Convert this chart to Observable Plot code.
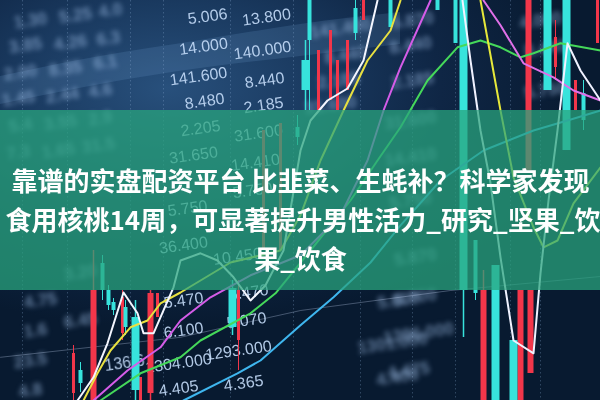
<!DOCTYPE html>
<html><head><meta charset="utf-8">
<script src="https://cdn.jsdelivr.net/npm/d3@7"></script>
<script src="https://cdn.jsdelivr.net/npm/@observablehq/plot@0.6"></script>
<style>
html,body{margin:0;padding:0;background:#0a1a30;}
#chart{width:600px;height:400px;overflow:hidden;}
</style>
</head><body><div id="chart"></div>
<script>
// ---- line series (x = period, y = price index) ----
const whiteAX = [7.7,9.3,10.7,12.3,13.7,14.3,15.3,17.3,18,20,21.7,23.3,25,26.5,28.3,30,31,32.7,34.7,36.3,37.7];
const whiteAY = [0,5.8,14.3,27,21.8,16.8,16.8,28.3,35,36.8,35,30.8,25,28.8,37.5,62.5,70,75,78,85,100];
const whiteBX = [46.2,47,48,49,50,51.3,53.3,54,54.8,55.7,56.7,58,60];
const whiteBY = [100,85,67.5,54.3,35.8,15,11.8,31.8,50,67.5,89.3,82.5,75];
const yellowAX = [8.3,9.7,11,13,14.7,16,18,23,28,30,32,34.3,36.7,39,40];
const yellowAY = [0,6.8,12.5,18.3,20,24.3,27,34.5,37.5,46.3,60,72.5,85,92.5,100];
const yellowBX = [48,49,50,51.3,53.3,54.3,55.7,57.3,60];
const yellowBY = [100,86.3,72.5,55.8,43.3,38.3,40,49.3,58.3];
const magentaAX = [9.3,12.7,16,18,21,25,30,34,36.7,38.3,40,43];
const magentaAY = [0,7.5,13.3,20,25.8,31.3,36.3,46.3,60,72.5,83.3,100];
const magentaBX = [48.3,50,52.3,55.3,57.3,60];
const magentaBY = [100,93.8,84.3,80.8,77.5,75];
const greenX = [10,14,18,20,25,27.5,31,35,37.7,40,42.7,45.7,48,50,52,53.3,56,60];
const greenY = [0,6.8,10.8,15,21.8,26.8,37.5,50,60,68.3,80,88.3,90,88.3,85.8,86.8,89.3,87.5];
const blueX = [18.3,23.7,26,30,33.3,37,40,44,48.3,53.3,56.7,60];
const blueY = [0,6.8,10,18.8,25.8,34.5,43.8,55,62.5,67.5,70,72.5];
const faintX = [0,18,30,45,60];
const faintY = [10.8,15.8,22.5,27.5,31];

// ---- candles: x, low, high, open, close ----
const upWideX = [13.5,23.2,46.3,49.5,51.3,54.7,56.6,30.5];
const upWideLow = [0,16.25,15.75,0,0,77.5,62.5,72.5];
const upWideHigh = [25,30,100,33.75,15,100,100,90];
const upWideOpen = [2.5,18.25,27.5,0,0,77.5,62.5,77.5];
const upWideClose = [20.75,28,100,33.75,15,100,100,85];

const upThinX = [10.2,10.8,11.3,12.5,8.0,29.7,30.9,35.5,39.0,45.5,47.5,58.3,43.7];
const upThinLow = [25,22.5,21.25,16.25,2,63.75,72.5,90,93.25,89.25,25,67.5,97.5];
const upThinHigh = [36.25,28.75,25.5,25,9.5,71.25,100,100,100,100,40,80,100];
const upThinOpen = [27.5,23.75,22.5,18.25,4.25,65.75,90,91.75,93.25,89.25,26.75,70,97.5];
const upThinClose = [34.25,27.5,24.5,23.25,7.5,68.25,100,98,100,100,40,76.75,100];

const downWideX = [9.3,15.0,52.8,48.3,52.0,53.0];
const downWideLow = [0,0,57.5,0,0,6.75];
const downWideHigh = [37.5,27.5,100,32.5,27.5,27.5];
const downWideOpen = [27.5,26.75,100,27.5,27.5,27.5];
const downWideClose = [0,1.75,57.5,0,0,6.75];

const downThinX = [7.3,12.2,15.7,14.0,23.8,28.0,26.3,31.8,33.0,33.7,34.7,36.3,55.5,57.5,59.7];
const downThinLow = [0,15,20.75,0,7.5,37.5,37.5,72.5,75,72.5,77.5,95,80,72.5,89.25];
const downThinHigh = [13.75,27.5,26.75,5.75,30,69.25,67.5,87.5,92.5,85,90,100,95,80,100];
const downThinOpen = [11.75,25.75,26.75,5.75,27.5,69.25,67.5,87.5,92.5,85,90,100,90.75,80,100];
const downThinClose = [1.75,16.75,20.75,0,15,37.5,37.5,72.5,75,72.5,77.5,95,83.25,72.5,89.25];

// ---- grid ----
const gridX = [2.2,6.7,13,16.3,23,29.3,36,41.2,45.5,51,54];

// ---- on-screen quote numbers ----
const quoteText = ["5.006","13.800","14.000","140.000","141.600","8.440","8.480","2.185","2.205","31.600","31.650","14.410","5.750","5.750","10.450","36.400","5.470","6.100","1304.000","4.405","5.470","5.070","1293.000","4.365","136.6"];
const quoteX = [20.7,26.6,20.3,26.2,19.8,26.4,20.4,26.3,20.0,25.8,19.3,25.5,25.2,18.7,23.7,18.3,18.3,18.3,17.8,17.8,24.8,24.6,23.8,24.3,12.4];
const quoteY = [96,95.8,88.5,87.5,81,80,74.8,73.8,68,66.8,61.3,59.5,52.5,48,36,38.8,25,17.5,9.3,3,27,20,12.5,4.3,9.3];

const blurText = ["141.400","8.440","2.185","31.600","5.870","8.440","2.185","31.600","14.410","5.750","5.600","1301.000","4.400","5.870","5.700","1296.000","4.475","4.000","8.440","5.750",
  "1.30","5.25","4.0","3.85","4.26","6.3","2.00","8.35","6.1","1.45","2.44","4.6","5.4","3.55","2.9","7.3","1.65","31.5","4.75","1.6","23.5","4.8","3.20","6.45"];
const blurX = [34,34.5,33.8,33,41.2,41,41.2,41,41,41,39.8,39.2,39.7,41.5,41.5,41.8,40.8,54,54.5,54.5,
  3,7.5,11,2.5,7,10.8,2,6.5,10.5,1.8,6.2,10,2,6,10,1.8,5.8,9.8,4,3.5,3,3,8,8];
const blurY = [93,86.3,80,73.8,95,88.8,80,70,60.8,50,25,14.3,5.8,35.8,25.8,16.8,7.5,95,88,77.5,
  95,96.3,97.5,88.8,89.5,90.5,82,83,84.5,75.5,76.3,77.5,68.8,69.5,70.5,62,62.5,63.8,25,17.5,10,2.5,32,20];

// ---- light strip & overlay band ----
const stripX = [0,10,20,30,40];
const stripTop = [81,86,90,94,97];
const stripBottom = [74,79,83,86,89];
const bandX = [0,60];
const bandY = [27.5,72.5];

// ---- title ----
const titleCentered = ["靠谱的实盘配资平台 比韭菜、生蚝补？科学家发现","果_饮食"];
const titleCenteredX = [30,30];
const titleCenteredY = [54.5,35];
const titleLeft = ["食用核桃14周，可显著提升男性活力_研究_坚果_饮食"];
const titleLeftX = [0.5];
const titleLeftY = [44.8];

const pts = (xs, ys) => xs.map((x,i)=>({x, y: ys[i]}));
const candles = (xs, lo, hi, op, cl) => xs.map((x,i)=>({x, lo: lo[i], hi: hi[i], op: op[i], cl: cl[i]}));

const upW = candles(upWideX, upWideLow, upWideHigh, upWideOpen, upWideClose);
const upT = candles(upThinX, upThinLow, upThinHigh, upThinOpen, upThinClose);
const dnW = candles(downWideX, downWideLow, downWideHigh, downWideOpen, downWideClose);
const dnT = candles(downThinX, downThinLow, downThinHigh, downThinOpen, downThinClose);

const quotes = quoteText.map((t,i)=>({t, x: quoteX[i], y: quoteY[i]}));
const blurs = blurText.map((t,i)=>({t, x: blurX[i], y: blurY[i]}));
const strip = stripX.map((x,i)=>({x, y1: stripBottom[i], y2: stripTop[i]}));
const titlesC = titleCentered.map((t,i)=>({t, x: titleCenteredX[i], y: titleCenteredY[i]}));
const titlesL = titleLeft.map((t,i)=>({t, x: titleLeftX[i], y: titleLeftY[i]}));

const CYAN = "#37e3dc", RED = "#f2364a";
const lineStyle = {x:"x", y:"y", strokeWidth: 2, strokeLinejoin:"round"};
const titleStyle = {x:"x", y:"y", text:"t", fill:"white", fontSize: 26, fontWeight:"bold", fontFamily:"Noto Sans CJK SC, sans-serif"};

const chart = Plot.plot({
  width: 600, height: 400, margin: 0,
  x: {domain: [0,60], axis: null},
  y: {domain: [0,100], axis: null},
  style: {background: "radial-gradient(ellipse 70% 60% at 28% 22%, #28507c 0%, #1a3a60 35%, #0f2645 65%, #081a30 100%)", overflow: "hidden"},
  marks: [
    Plot.areaY(strip, {x:"x", y1:"y1", y2:"y2", fill:"#7fb0e0", fillOpacity: 0.16, curve:"natural"}),
    Plot.ruleX(gridX, {stroke:"#8fb0d8", strokeOpacity: 0.3, strokeDasharray: "1.5,2.5"}),
    Plot.text(blurs, {x:"x", y:"y", text:"t", fill:"#a9c9f0", fontSize: 17, fontWeight:"bold", rotate: -8, fillOpacity: 0.55, fontFamily:"Liberation Sans Narrow, Liberation Sans, sans-serif"}),
    Plot.text(quotes, {x:"x", y:"y", text:"t", fill:"#c4dcf8", fontSize: 16, rotate: -8, fillOpacity: 0.9, fontFamily:"Liberation Sans Narrow, Liberation Sans, sans-serif"}),
    Plot.line(pts(faintX, faintY), {x:"x", y:"y", stroke:"#cfe0ff", strokeOpacity:0.3, strokeWidth:1}),
    // candles
    Plot.ruleX(dnT, {x:"x", y1:"lo", y2:"hi", stroke: RED, strokeWidth: 1}),
    Plot.ruleX(dnT, {x:"x", y1:"op", y2:"cl", stroke: RED, strokeWidth: 3}),
    Plot.ruleX(dnW, {x:"x", y1:"lo", y2:"hi", stroke: RED, strokeWidth: 1.5}),
    Plot.ruleX(dnW, {x:"x", y1:"op", y2:"cl", stroke: RED, strokeWidth: 6}),
    Plot.ruleX(upT, {x:"x", y1:"lo", y2:"hi", stroke: CYAN, strokeWidth: 1}),
    Plot.ruleX(upT, {x:"x", y1:"op", y2:"cl", stroke: CYAN, strokeWidth: 4}),
    Plot.ruleX(upW, {x:"x", y1:"lo", y2:"hi", stroke: CYAN, strokeWidth: 1.5}),
    Plot.ruleX(upW, {x:"x", y1:"op", y2:"cl", stroke: CYAN, strokeWidth: 8}),
    // indicator lines
    Plot.line(pts(blueX, blueY), {...lineStyle, stroke:"#3fb6ee"}),
    Plot.line(pts(greenX, greenY), {...lineStyle, stroke:"#45d85a"}),
    Plot.line(pts(magentaAX, magentaAY), {...lineStyle, stroke:"#d55ce8"}),
    Plot.line(pts(magentaBX, magentaBY), {...lineStyle, stroke:"#e070e8"}),
    Plot.line(pts(yellowAX, yellowAY), {...lineStyle, stroke:"#e8e040"}),
    Plot.line(pts(yellowBX, yellowBY), {...lineStyle, stroke:"#e6e83a"}),
    Plot.line(pts(whiteAX, whiteAY), {...lineStyle, stroke:"#f4f6ff"}),
    Plot.line(pts(whiteBX, whiteBY), {...lineStyle, stroke:"#f0f2ff"}),
    // overlay band
    Plot.rect([{x1: bandX[0], x2: bandX[1], y1: bandY[0], y2: bandY[1]}], {x1:"x1", x2:"x2", y1:"y1", y2:"y2", fill:"#28a47e", fillOpacity: 0.74}),
    Plot.text(titlesC, {...titleStyle, textAnchor: "middle"}),
    Plot.text(titlesL, {...titleStyle, textAnchor: "start"})
  ]
});
document.getElementById("chart").appendChild(chart);
const textGroups = chart.querySelectorAll('g[aria-label="text"]');
if (textGroups[0]) textGroups[0].style.filter = "blur(2.5px)";
if (textGroups[1]) textGroups[1].style.filter = "blur(0.6px)";
</script>
</body></html>
